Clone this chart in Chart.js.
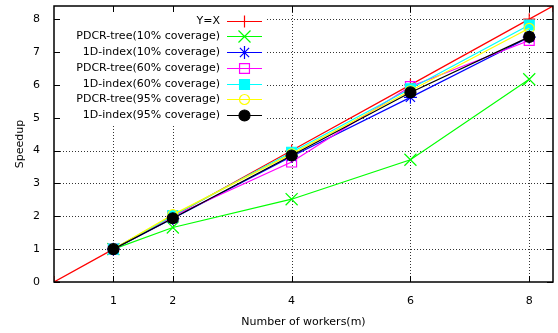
<!DOCTYPE html>
<html>
<head>
<meta charset="utf-8">
<script src="https://cdn.jsdelivr.net/npm/chart.js@4/dist/chart.umd.min.js"></script>
<style>
  html, body { margin: 0; padding: 0; background: #fff; }
</style>
</head>
<body>
<canvas id="grafica" width="558" height="333"></canvas>
<script>
// datos
const workers = [1, 2, 4, 6, 8];
const lineaXs = [0, 1, 2, 4, 6, 8, 8.4];
const lineaYs = [0, 1, 2, 4, 6, 8, 8.4];
const pdcr10 = [1.0, 1.66, 2.52, 3.72, 6.17];
const idx10 = [1.0, 1.93, 3.82, 5.62, 7.45];
const pdcr60 = [1.0, 2.0, 3.65, 5.95, 7.35];
const idx60 = [1.0, 2.02, 3.95, 5.88, 7.82];
const pdcr95 = [1.0, 2.05, 3.9, 5.82, 7.72];
const idx95 = [1.0, 1.94, 3.85, 5.77, 7.46];
const yTicks = [0, 1, 2, 3, 4, 5, 6, 7, 8];

const FUENTE = { family: 'DejaVu Sans', size: 11 };

function puntos(xs, ys) {
    return xs.map((x, i) => ({ x: x, y: ys[i] }));
}

function serie(label, ys, color, estilo, radio, relleno, orden) {
    return {
        label: label,
        data: puntos(workers, ys),
        borderColor: color,
        backgroundColor: color,
        borderWidth: 1.2,
        pointStyle: estilo,
        pointRadius: radio,
        pointHoverRadius: radio,
        pointBorderColor: color,
        pointBackgroundColor: relleno,
        pointBorderWidth: 1.2,
        tension: 0,
        order: orden
    };
}

const datasets = [
    Object.assign(serie('Y=X', [], '#ff0000', 'cross', 6, '#ff0000', 7), { data: puntos(lineaXs, lineaYs) }),
    serie('PDCR-tree(10% coverage)', pdcr10, '#00ff00', 'crossRot', 8.5, '#00ff00', 6),
    serie('1D-index(10% coverage)', idx10, '#0000ff', 'star', 6.5, '#0000ff', 5),
    serie('PDCR-tree(60% coverage)', pdcr60, '#ff00ff', 'rect', 7, 'rgba(0,0,0,0)', 4),
    serie('1D-index(60% coverage)', idx60, '#00ffff', 'rect', 7, '#00ffff', 3),
    serie('PDCR-tree(95% coverage)', pdcr95, '#ffff00', 'circle', 5, 'rgba(0,0,0,0)', 2),
    serie('1D-index(95% coverage)', idx95, '#000000', 'circle', 5.5, '#000000', 1)
];

// grilla punteada, caja opaca de la leyenda, marco con marcas hacia adentro
const marcoPlugin = {
    id: 'marco',
    beforeDatasetsDraw(chart) {
        const { ctx, chartArea: a, scales } = chart;
        ctx.save();
        ctx.strokeStyle = 'rgba(0,0,0,0.8)';
        ctx.lineWidth = 1;
        ctx.setLineDash([1, 2]);
        workers.forEach(v => {
            const px = Math.round(scales.x.getPixelForValue(v)) + 0.5;
            ctx.beginPath(); ctx.moveTo(px, a.top); ctx.lineTo(px, a.bottom); ctx.stroke();
        });
        yTicks.slice(1).forEach(v => {
            const py = Math.round(scales.y.getPixelForValue(v)) + 0.5;
            ctx.beginPath(); ctx.moveTo(a.left, py); ctx.lineTo(a.right, py); ctx.stroke();
        });
        ctx.setLineDash([]);
        // caja opaca de la leyenda
        ctx.fillStyle = '#fff';
        ctx.fillRect(a.left + 1, a.top + 1, 212, 119);
        ctx.restore();
    },
    afterDraw(chart) {
        const { ctx, chartArea: a, scales } = chart;
        ctx.save();
        ctx.strokeStyle = '#000';
        ctx.lineWidth = 1;
        const largo = 6;
        ctx.beginPath();
        workers.forEach(v => {
            const px = Math.round(scales.x.getPixelForValue(v)) + 0.5;
            ctx.moveTo(px, a.bottom); ctx.lineTo(px, a.bottom - largo);
            ctx.moveTo(px, a.top); ctx.lineTo(px, a.top + largo);
        });
        yTicks.forEach(v => {
            const py = Math.round(scales.y.getPixelForValue(v)) + 0.5;
            ctx.moveTo(a.left, py); ctx.lineTo(a.left + largo, py);
            ctx.moveTo(a.right, py); ctx.lineTo(a.right - largo, py);
        });
        ctx.stroke();
        ctx.lineWidth = 1.5;
        ctx.strokeRect(a.left, a.top, a.right - a.left, a.bottom - a.top);

        // leyenda
        ctx.font = '11px "DejaVu Sans"';
        ctx.textAlign = 'right';
        ctx.textBaseline = 'middle';
        const xTexto = a.left + 166;
        const x0 = a.left + 173, x1 = a.left + 208;
        chart.data.datasets.forEach((ds, i) => {
            const y = Math.round(a.top + 14.5 + i * 15.75) + 0.5;
            ctx.fillStyle = '#000';
            ctx.fillText(ds.label, xTexto, y);
            ctx.strokeStyle = ds.borderColor;
            ctx.lineWidth = 1.2;
            ctx.beginPath(); ctx.moveTo(x0, y); ctx.lineTo(x1, y); ctx.stroke();
            ctx.fillStyle = ds.pointBackgroundColor;
            Chart.helpers.drawPoint(ctx, {
                pointStyle: ds.pointStyle,
                radius: ds.pointRadius,
                rotation: 0,
                borderWidth: 1.2
            }, (x0 + x1) / 2, y);
        });
        ctx.restore();
    }
};

new Chart(document.getElementById('grafica'), {
    type: 'line',
    data: { datasets: datasets },
    options: {
        responsive: false,
        animation: false,
        devicePixelRatio: 1,
        layout: { autoPadding: false, padding: { top: 6, right: 5, left: 0, bottom: 0 } },
        plugins: { legend: { display: false }, tooltip: { enabled: false } },
        scales: {
            x: {
                type: 'linear',
                min: 0,
                max: 8.4,
                afterBuildTicks: s => { s.ticks = workers.map(v => ({ value: v })); },
                afterFit: s => { s.height = 51; s.paddingLeft = 0; s.paddingRight = 0; },
                grid: { display: false },
                border: { display: false },
                ticks: { color: '#000', font: FUENTE, padding: 5, maxRotation: 0 },
                title: { display: true, text: 'Number of workers(m)', color: '#000', font: FUENTE, padding: { top: 0, bottom: 4 } }
            },
            y: {
                type: 'linear',
                min: 0,
                max: 8.4,
                afterBuildTicks: s => { s.ticks = yTicks.map(v => ({ value: v })); },
                afterFit: s => { s.width = 54; s.paddingTop = 0; s.paddingBottom = 0; },
                grid: { display: false },
                border: { display: false },
                ticks: { color: '#000', font: FUENTE, padding: 6 },
                title: { display: true, text: 'Speedup', color: '#000', font: FUENTE, padding: { top: 14, bottom: 0 } }
            }
        }
    },
    plugins: [marcoPlugin]
});
</script>
</body>
</html>
